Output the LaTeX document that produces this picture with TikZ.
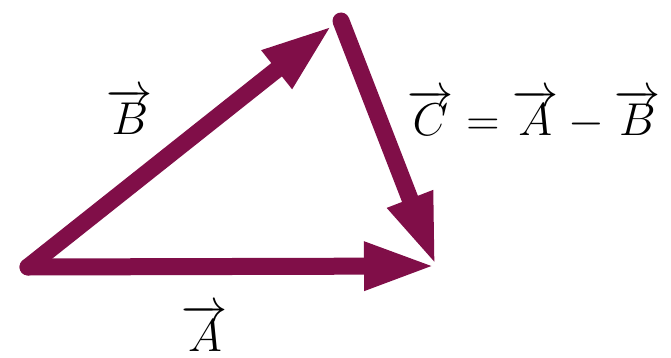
\documentclass[tikz,border=0pt]{standalone}
\usetikzlibrary{arrows.meta}
\definecolor{vecred}{RGB}{128,14,72}
\begin{document}
\begin{tikzpicture}[x=1pt, y=-1pt,
    vec/.style={line width=17pt, vecred, line cap=round, -{Triangle[length=72pt, width=44pt]}},
    lab/.style={anchor=base, inner sep=0pt, font=\Huge, scale=1.85}]
				\useasboundingbox (0,0) rectangle (671,358);
				
				% 1. 三角形顶点
				\coordinate (O) at (28,267);
				\coordinate (P) at (333,25);
				\coordinate (Q) at (341,21);
				\coordinate (R) at (436,266);
				
				% 2. 三个矢量 (A, B, C)
				\draw[vec] (O) -- (R);
				\draw[vec] (O) -- (P);
				\draw[vec] (Q) -- (R);
				
				% 3. 矢量标签
				\node[lab] (labB) at (130,135) {$\overrightarrow{B}$};
				\node[lab] (labC) at (534,136) {$\overrightarrow{C}=\overrightarrow{A}-\overrightarrow{B}$};
				\node[lab] (labA) at (205,351) {$\overrightarrow{A}$};
			\end{tikzpicture}
\end{document}
